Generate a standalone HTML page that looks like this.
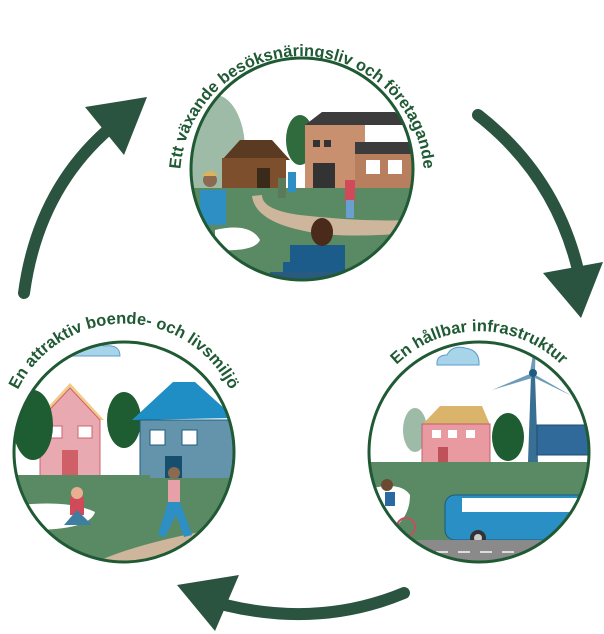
<!DOCTYPE html>
<html><head><meta charset="utf-8"><style>
html,body{margin:0;padding:0;background:#fff;}
svg{display:block;}
text{font-family:"Liberation Sans",sans-serif;font-weight:bold;fill:#1f5a34;}
</style></head><body>
<svg width="604" height="634" viewBox="0 0 604 634" xmlns="http://www.w3.org/2000/svg">
<defs>
<clipPath id="c1"><circle cx="302" cy="169" r="111"/></clipPath>
<clipPath id="c2"><circle cx="124" cy="452" r="110"/></clipPath>
<clipPath id="c3"><circle cx="479" cy="452" r="110"/></clipPath>
<path id="a1" d="M 180 178 A 122 122 0 1 1 424 178"/>
<path id="a2" d="M 8 420 A 118 118 0 0 1 240 420"/>
<path id="a3" d="M 380 385 A 118 118 0 0 1 578 385"/>
</defs>

<!-- arrows -->
<g fill="none" stroke="#2a5440" stroke-width="12" stroke-linecap="round">
<path d="M 24 293 Q 38 190 110 128"/>
<path d="M 478 115 Q 555 175 578 270"/>
<path d="M 404 593 Q 320 628 225 605"/>
</g>
<g fill="#2a5440">
<polygon points="85,107 147,97 124,155"/>
<polygon points="543,273 603,262 581,318"/>
<polygon points="177,585 239,575 215,631"/>
</g>

<!-- TOP CIRCLE -->
<g clip-path="url(#c1)">
<rect x="180" y="55" width="250" height="230" fill="#fff"/>
<ellipse cx="215" cy="150" rx="30" ry="55" fill="#9dbba6"/>
<ellipse cx="300" cy="140" rx="14" ry="25" fill="#2f6b3c"/>
<polygon points="222,160 240,140 272,140 290,160" fill="#5a3a20"/>
<rect x="222" y="158" width="64" height="36" fill="#7d4f2d"/>
<rect x="257" y="168" width="13" height="24" fill="#3a2a1a"/>
<polygon points="305,125 322,112 395,112 410,125" fill="#3c3c3c"/>
<rect x="305" y="125" width="60" height="70" fill="#c99070"/>
<rect x="355" y="142" width="60" height="50" fill="#b87f5e"/>
<rect x="355" y="142" width="60" height="12" fill="#3c3c3c"/>
<rect x="313" y="163" width="22" height="28" fill="#333"/>
<rect x="313" y="140" width="7" height="7" fill="#333"/><rect x="324" y="140" width="7" height="7" fill="#333"/>
<rect x="366" y="160" width="14" height="14" fill="#fff"/><rect x="388" y="160" width="14" height="14" fill="#fff"/>
<rect x="180" y="188" width="250" height="100" fill="#5a8a64"/>
<path d="M 262 195 Q 262 210 300 215 Q 360 222 410 220 L 420 232 Q 340 240 300 230 Q 255 220 252 196 Z" fill="#cdb69c"/>
<path d="M 215 230 Q 250 222 260 240 Q 255 252 215 250 Z" fill="#fff"/>
<rect x="200" y="190" width="26" height="35" fill="#2d8fc4"/>
<circle cx="210" cy="180" r="7" fill="#8b6a50"/>
<path d="M 202 176 Q 210 166 218 176 Z" fill="#d9b45a"/>
<rect x="278" y="178" width="8" height="20" fill="#5a7a5a"/>
<rect x="276" y="172" width="8" height="20" fill="#2d8fc4" transform="translate(12,0)"/>
<rect x="345" y="180" width="10" height="22" fill="#d04a5a"/>
<rect x="346" y="200" width="8" height="18" fill="#6aa0d0"/>
<rect x="290" y="245" width="55" height="35" fill="#1c5c8a"/>
<ellipse cx="322" cy="232" rx="11" ry="14" fill="#4a2a1a"/>
<rect x="283" y="262" width="28" height="14" fill="#1c5c8a"/>
<rect x="270" y="272" width="80" height="10" fill="#2a5a80"/>
</g>
<circle cx="302" cy="169" r="111" fill="none" stroke="#1f5a34" stroke-width="3"/>
<text font-size="16.5"><textPath href="#a1" startOffset="50%" text-anchor="middle">Ett växande besöksnäringsliv och företagande</textPath></text>

<!-- BOTTOM LEFT -->
<g clip-path="url(#c2)">
<rect x="10" y="340" width="230" height="230" fill="#fff"/>
<path d="M 72 356 Q 72 346 84 346 Q 92 340 104 346 Q 120 344 120 356 Z" fill="#a8d4ea" stroke="#5a9ccc"/>
<polygon points="36,420 70,383 104,420" fill="#f1cc86"/>
<polygon points="40,420 70,388 100,420 100,478 40,478" fill="#e8aab0" stroke="#d06070"/>
<rect x="48" y="426" width="14" height="12" fill="#fff" stroke="#d06070"/>
<rect x="78" y="426" width="14" height="12" fill="#fff" stroke="#d06070"/>
<rect x="62" y="450" width="16" height="27" fill="#d06068"/>
<ellipse cx="33" cy="425" rx="20" ry="35" fill="#1e5c32"/>
<ellipse cx="124" cy="420" rx="17" ry="28" fill="#1e5c32"/>
<polygon points="132,420 173,382 195,382 235,418" fill="#1e8ec4"/>
<rect x="140" y="420" width="95" height="68" fill="#6494ab" stroke="#1e5c80"/>
<rect x="150" y="430" width="15" height="15" fill="#fff" stroke="#1e5c80"/>
<rect x="182" y="430" width="15" height="15" fill="#fff" stroke="#1e5c80"/>
<rect x="165" y="456" width="17" height="32" fill="#164e6e"/>
<rect x="10" y="478" width="230" height="100" fill="#5a8a64"/>
<rect x="0" y="475" width="150" height="12" fill="#5a8a64"/>
<path d="M 20 505 Q 70 500 95 512 Q 90 530 30 530 Z" fill="#fff"/>
<path d="M 90 565 Q 130 545 210 530 L 240 530 L 240 580 L 80 580 Z" fill="#cdb69c"/>
<rect x="70" y="497" width="14" height="18" fill="#d04a5a"/>
<polygon points="64,525 77,510 92,525" fill="#3e7ea0"/>
<circle cx="77" cy="493" r="6" fill="#e8b090"/>
<rect x="168" y="480" width="12" height="22" fill="#e8a0a8"/>
<polygon points="168,502 180,502 192,535 184,537 176,515 165,537 158,535" fill="#2d8fc4"/>
<circle cx="174" cy="473" r="6" fill="#8b6a50"/>
</g>
<circle cx="124" cy="452" r="110" fill="none" stroke="#1f5a34" stroke-width="3"/>
<text font-size="16.5"><textPath href="#a2" startOffset="50%" text-anchor="middle">En attraktiv boende- och livsmiljö</textPath></text>

<!-- BOTTOM RIGHT -->
<g clip-path="url(#c3)">
<rect x="365" y="340" width="230" height="230" fill="#fff"/>
<path d="M 437 365 Q 436 355 447 355 Q 452 345 465 348 Q 480 350 479 365 Z" fill="#a8d4ea" stroke="#5a9ccc"/>
<ellipse cx="415" cy="430" rx="12" ry="22" fill="#9dbba6"/>
<polygon points="528,462 531,375 535,375 538,462" fill="#3a6f94"/>
<polygon points="532,373 492,390 532,378" fill="#6e9cb8"/>
<polygon points="532,373 572,396 535,378" fill="#6e9cb8"/>
<polygon points="530,372 536,336 535,372" fill="#6e9cb8"/>
<circle cx="533" cy="373" r="4" fill="#1e5c80"/>
<polygon points="422,425 440,406 482,406 490,425" fill="#d9b46a"/>
<rect x="422" y="424" width="68" height="40" fill="#e89aa0" stroke="#c06070"/>
<rect x="432" y="430" width="9" height="8" fill="#fff"/><rect x="448" y="430" width="9" height="8" fill="#fff"/><rect x="466" y="430" width="9" height="8" fill="#fff"/>
<rect x="438" y="447" width="10" height="17" fill="#c0505a"/>
<ellipse cx="508" cy="437" rx="16" ry="24" fill="#1e5c32"/>
<polygon points="537,425 590,425 590,455 537,455" fill="#2f6a9a" stroke="#1e4c70"/>
<rect x="370" y="462" width="230" height="80" fill="#5a8a64"/>
<path d="M 365 490 Q 400 480 410 495 Q 410 530 365 540 Z" fill="#fff"/>
<rect x="445" y="495" width="150" height="45" rx="10" fill="#2a8fc4" stroke="#1a5a80"/>
<rect x="462" y="498" width="130" height="14" fill="#fff"/>
<circle cx="478" cy="538" r="8" fill="#333"/><circle cx="478" cy="538" r="4" fill="#ccc"/>
<rect x="365" y="540" width="235" height="25" fill="#8a8a8a"/>
<line x1="370" y1="552" x2="600" y2="552" stroke="#ddd" stroke-width="2" stroke-dasharray="12 10"/>
<circle cx="406" cy="527" r="9" fill="none" stroke="#c05060" stroke-width="2"/>
<rect x="385" y="492" width="10" height="14" fill="#2a6aa0"/>
<circle cx="387" cy="485" r="6" fill="#6a4a30"/>
</g>
<circle cx="479" cy="452" r="110" fill="none" stroke="#1f5a34" stroke-width="3"/>
<text font-size="16.5"><textPath href="#a3" startOffset="50%" text-anchor="middle">En hållbar infrastruktur</textPath></text>
</svg>
</body></html>
